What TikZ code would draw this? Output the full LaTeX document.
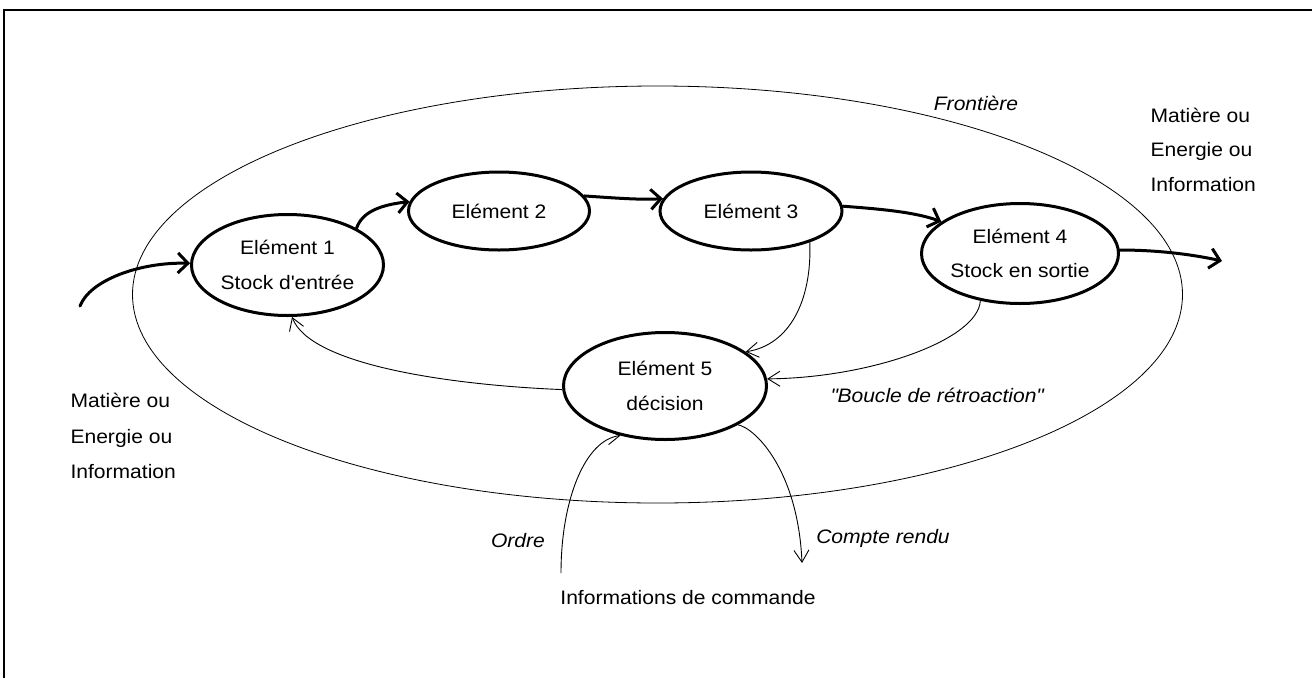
\documentclass[tikz,border=0pt]{standalone}
\usepackage{fontspec}
\setmainfont{Liberation Sans}[FakeStretch=1.08]
\usetikzlibrary{shapes.geometric,arrows.meta}
\begin{document}
\begin{tikzpicture}[x=1pt,y=-1pt,
  font=\fontsize{19.5}{34.5}\selectfont,
  elem/.style={ellipse,draw,line width=3pt,inner sep=0pt,align=center},
  fat/.style={line width=3pt,line cap=round,-{Straight Barb[length=10pt,width=20pt]}},
  thinarr/.style={line width=0.9pt,-{Straight Barb[length=12pt,width=15pt]}},
  lbl/.style={font=\fontsize{19.5}{34.5}\selectfont\itshape}]
\useasboundingbox (0,0) rectangle (1312,678);
% frame
\draw[line width=2pt] (4,678) -- (4,10) -- (1312,10);
% boundary
\node[ellipse,draw,line width=0.8pt,minimum width=1050pt,minimum height=417pt,inner sep=0pt] (F) at (657.5,294.5) {};
% elements
\node[elem,minimum width=192pt,minimum height=101pt] (E1) at (287.5,265) {Elément 1\\Stock d\textquotesingle entrée};
\node[elem,minimum width=181pt,minimum height=78pt] (E2) at (499,211) {Elément 2};
\node[elem,minimum width=182pt,minimum height=78pt] (E3) at (751,211) {Elément 3};
\node[elem,minimum width=193pt,minimum height=100pt] (E4) at (1020,253.5) {Elément 4\\Stock en sortie};
\node[elem,minimum width=203pt,minimum height=107pt] (E5) at (665,386) {Elément 5\\décision};
% free ends
\coordinate (inS) at (80,306);
\coordinate (outE) at (1222,261);
\coordinate (ordS) at (561,573);
\coordinate (crE) at (802,563);
% thick flow
\draw[fat] (inS) .. controls (90,280) and (140,262) .. (E1.179);
\draw[fat] (E1.28) .. controls (362,212) and (380,205) .. (E2.174);
\draw[fat] (E2.10) .. controls (615,198) and (640,200) .. (E3.172);
\draw[fat] (E3.3) .. controls (880,209) and (915,212) .. (E4.158);
\draw[fat] (E4.2) .. controls (1160,250) and (1195,255) .. (outE);
% thin information arrows
\draw[thinarr] (E3.-28) .. controls (812,300) and (790,345) .. (E5.23);
\draw[thinarr] (E4.230) .. controls (978,340) and (870,378) .. (E5.4);
\draw[thinarr] (E5.182) .. controls (450,385) and (310,365) .. (E1.-85);
\draw[thinarr] (ordS) .. controls (561,500) and (585,440) .. (E5.228);
\draw[thinarr] (E5.-28) .. controls (755,428) and (798,470) .. (crE);
% texts
\node[lbl] (fr) at (976,103) {Frontière};
\node[align=left,anchor=west] (mr) at (1147,149.5) {Matière ou\\Energie ou\\Information};
\node[align=left,anchor=west,font=\fontsize{19.5}{35.5}\selectfont] (ml) at (67,436) {Matière ou\\Energie ou\\Information};
\node[lbl] (br) at (937,395) {\textquotedbl Boucle de rétroaction\textquotedbl};
\node[lbl] (or) at (518,541) {Ordre};
\node[lbl] (cr) at (883,538) {Compte rendu};
\node (ic) at (688,598) {Informations de commande};
\end{tikzpicture}
\end{document}
